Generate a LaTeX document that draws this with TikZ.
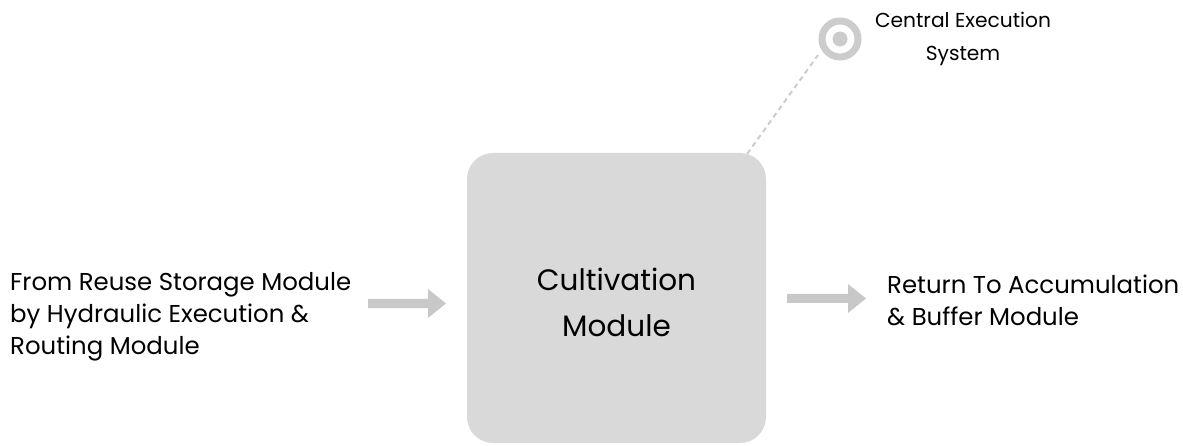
\documentclass[tikz,border=0pt]{standalone}
\usepackage{fontspec}
\setmainfont{Poppins}
\begin{document}
\begin{tikzpicture}[x=1pt,y=-1pt,
  lbl/.style={inner sep=0pt, font=\fontsize{24.4}{32}\selectfont},
  ]
\definecolor{boxgray}{HTML}{D9D9D9}
\definecolor{arrowgray}{HTML}{C8C8C8}
\definecolor{ringgray}{HTML}{CCCCCC}
\useasboundingbox (0,0) rectangle (1183,446);
% central module
\node[fill=boxgray, rounded corners=26pt, minimum width=299pt, minimum height=290pt, inner sep=0pt] (cm) at (616.5,298) {};
\node[align=center, inner sep=0pt, font=\fontsize{29.5}{46}\selectfont] (cmt) at (616.5,302) {Cultivation\\Module};
% incoming and outgoing labels
\node[lbl, anchor=west, align=left] (src) at (10,317) {From Reuse Storage Module\\by Hydraulic Execution \&\\Routing Module};
\node[lbl, anchor=west, align=left] (dst) at (887,300) {Return To Accumulation\\\& Buffer Module};
% flow arrows
\fill[arrowgray] (368,299) -- (428,299) -- (428,289) -- (446,303.5) -- (428,318) -- (428,308) -- (368,308) -- cycle;
\fill[arrowgray] (787,294) -- (848,294) -- (848,284) -- (866,298.5) -- (848,313) -- (848,303) -- (787,303) -- cycle;
% central execution system marker
\coordinate (ces) at (840,39);
\draw[ringgray, line width=2pt, dash pattern=on 5pt off 4pt] (cm.north east) ++(-19,1) -- (818,55);
\draw[ringgray, line width=7pt] (ces) circle (18pt);
\fill[ringgray] (ces) circle (7.5pt);
\node[font=\fontsize{20.2}{33}\selectfont, align=center, inner sep=0pt] (cesl) at (963,39) {Central Execution\\System};
\end{tikzpicture}
\end{document}
